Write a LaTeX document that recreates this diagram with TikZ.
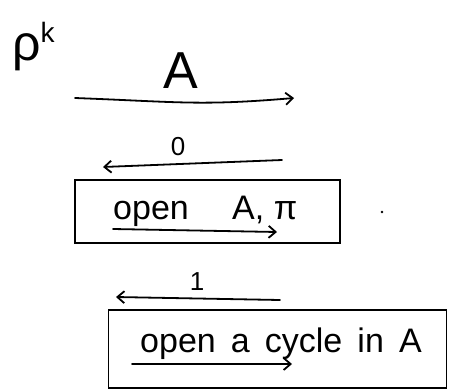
\documentclass[tikz,border=0pt]{standalone}
\usepackage{fontspec}
\setmainfont{Liberation Sans}
\usetikzlibrary{arrows.meta}
\begin{document}
\begin{tikzpicture}[x=1pt,y=-1pt,
  ink/.style={line width=1.8pt, line cap=round, line join=round, black},
  arr/.style={ink, -{Straight Barb[length=7pt,width=12pt,line width=1.8pt]}},
  boxnode/.style={draw, line width=1.8pt, inner sep=0pt},
  big/.style={font=\fontsize{34}{40}\selectfont, inner sep=0pt},
  lbl/.style={font=\fontsize{26}{30}\selectfont, inner sep=0pt}]
\useasboundingbox (0,0) rectangle (449,391);
% title
\node[font=\fontsize{50}{56}\selectfont, inner sep=0pt, anchor=base west] (title) at (12,60) {ρ\raisebox{18pt}{\fontsize{28}{30}\selectfont k}};
% top arrow
\node[font=\fontsize{52}{60}\selectfont, inner sep=0pt] (lA) at (181,71) {A};
\coordinate (a1s) at (75,98);
\coordinate (a1e) at (294,98);
\draw[arr] (a1s) .. controls (180,102) and (200,106) .. (a1e);
% second arrow
\node[lbl] (l0) at (178,147) {0};
\coordinate (a2s) at (282,160);
\coordinate (a2e) at (103,167);
\draw[arr] (a2s) -- (a2e);
% box 1
\node[boxnode, minimum width=265pt, minimum height=63pt] (box1) at (207.5,211.5) {};
\node[big, anchor=base west] (t1) at (113,219) {open\quad\ A, π};
\coordinate (u1s) at (113,229);
\coordinate (u1e) at (277,232);
\draw[arr] (u1s) -- (u1e);
% third arrow
\node[lbl] (l1) at (197,282) {1};
\coordinate (a3s) at (280,300);
\coordinate (a3e) at (116,297);
\draw[arr] (a3s) -- (a3e);
% box 2
\node[boxnode, minimum width=338pt, minimum height=78pt] (box2) at (277.5,349) {};
\node[big, anchor=base west] (t2) at (140,352) {open\, a\, cycle\, in\, A};
\coordinate (u2s) at (132,364);
\coordinate (u2e) at (292,364);
\draw[arr] (u2s) -- (u2e);
% dot
\fill (382,212) circle (1.3pt);
\end{tikzpicture}
\end{document}
